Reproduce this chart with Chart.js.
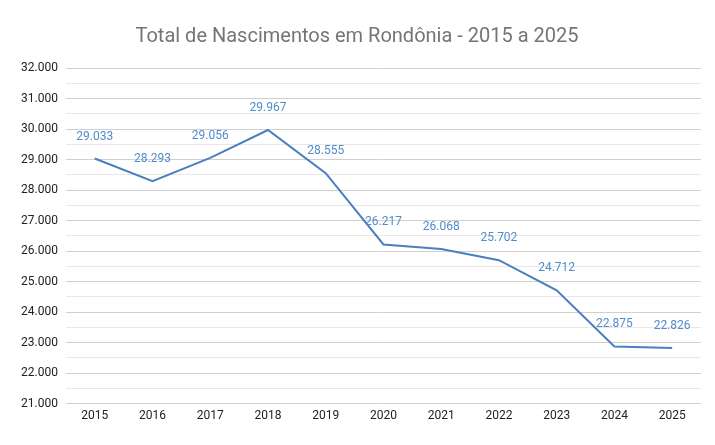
<!DOCTYPE html>
<html>
<head>
<meta charset="utf-8">
<script src="https://cdn.jsdelivr.net/npm/chart.js@4"></script>
<style>
  html, body { margin: 0; padding: 0; background: #fff; }
  #wrap { width: 715px; height: 445px; position: relative; }
</style>
</head>
<body>
<div id="wrap"><canvas id="chart"></canvas></div>
<script>
const years = ['2015', '2016', '2017', '2018', '2019', '2020', '2021', '2022', '2023', '2024', '2025'];
const births = [29033, 28293, 29056, 29967, 28555, 26217, 26068, 25702, 24712, 22875, 22826];
const yMin = 21000;
const yMax = 32000;

function fmt(v) {
  return v.toLocaleString('pt-BR');
}

// draws the value above each point
const pointLabels = {
  id: 'pointLabels',
  afterDatasetsDraw(chart) {
    const ctx = chart.ctx;
    const meta = chart.getDatasetMeta(0);
    ctx.save();
    ctx.font = '12px Roboto';
    ctx.fillStyle = '#4f8ccc';
    ctx.textAlign = 'center';
    ctx.textBaseline = 'middle';
    meta.data.forEach((pt, i) => {
      ctx.fillText(fmt(births[i]), pt.x, pt.y - 22);
    });
    ctx.restore();
  }
};

new Chart(document.getElementById('chart'), {
  type: 'line',
  data: {
    labels: years,
    datasets: [{
      data: births,
      borderColor: '#4a7fc1',
      borderWidth: 2,
      pointRadius: 0,
      tension: 0,
      fill: false
    }]
  },
  options: {
    responsive: true,
    maintainAspectRatio: false,
    animation: false,
    layout: { padding: { left: 13, right: 14, top: 8, bottom: 17 } },
    plugins: {
      legend: { display: false },
      tooltip: { enabled: false },
      title: {
        display: true,
        text: 'Total de Nascimentos em Rondônia - 2015 a 2025',
        color: '#757575',
        font: { family: 'Roboto', size: 20, weight: 'normal' },
        padding: { top: 17, bottom: 19 }
      }
    },
    scales: {
      x: {
        offset: true,
        grid: { display: false, drawTicks: false },
        border: { display: false },
        ticks: { color: '#222', font: { family: 'Roboto', size: 12 }, padding: 5 }
      },
      y: {
        min: yMin,
        max: yMax,
        border: { display: false },
        grid: {
          color: c => (c.tick && c.tick.value % 1000 === 0) ? '#d0d0d0' : '#e8e8e8',
          drawTicks: false
        },
        ticks: {
          stepSize: 500,
          color: '#222',
          font: { family: 'Roboto', size: 12 },
          padding: 8,
          autoSkip: false,
          callback: v => v % 1000 === 0 ? fmt(v) : ''
        }
      }
    }
  },
  plugins: [pointLabels]
});
</script>
</body>
</html>
